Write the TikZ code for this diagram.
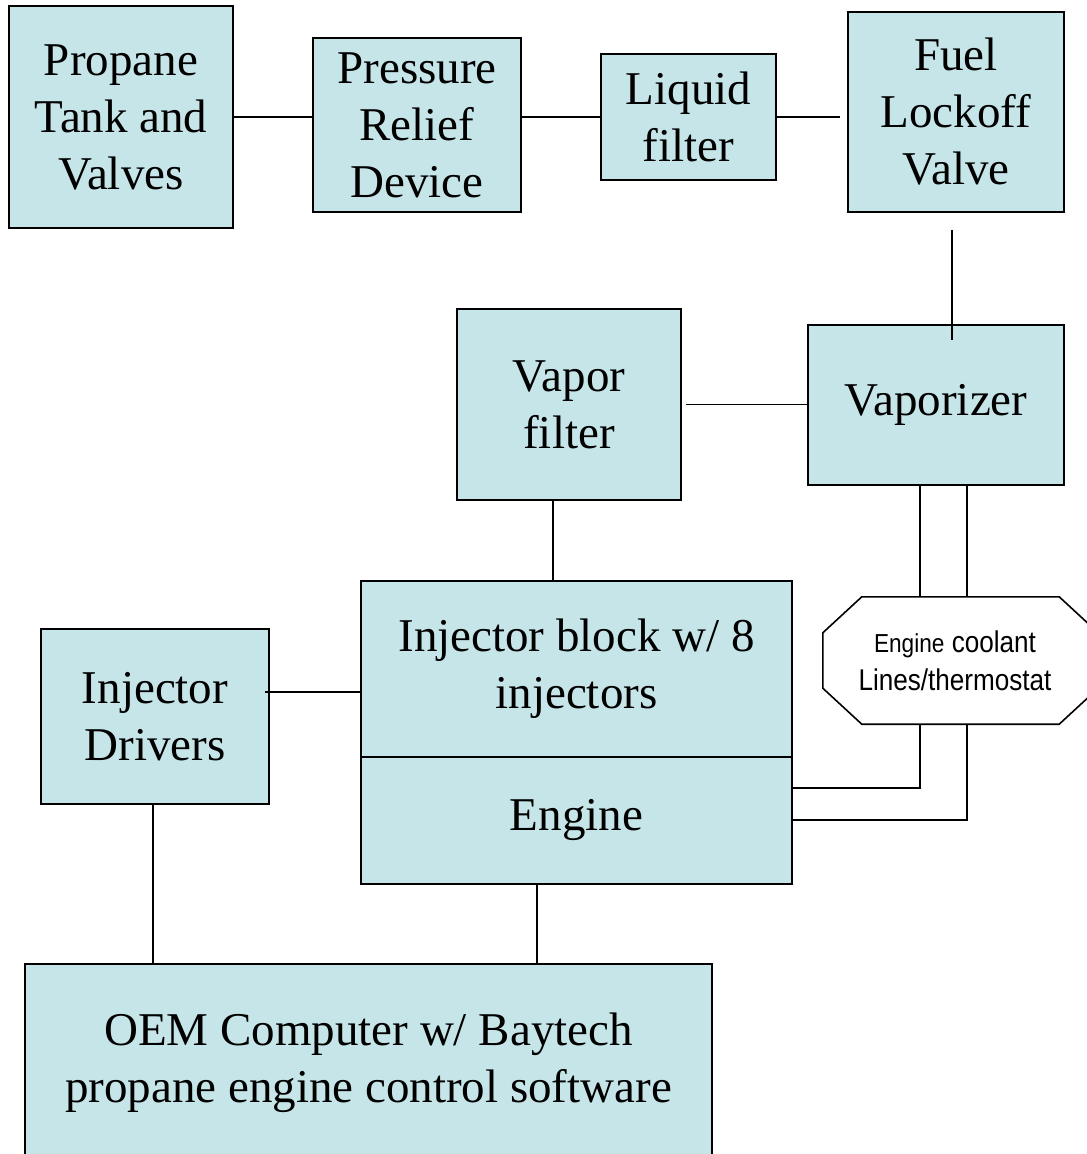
\documentclass[tikz,border=0pt]{standalone}
\usepackage{fontspec}
\setmainfont{Liberation Serif}
\newfontfamily\narrowsans[FakeStretch=0.87]{Liberation Sans}
\usetikzlibrary{calc,positioning}
\definecolor{boxblue}{RGB}{198,229,232}
\tikzset{
  block/.style={draw, fill=boxblue, line width=1.6pt, align=center, inner sep=0pt,
    font=\fontsize{47}{57}\selectfont},
  wire/.style={line width=1.6pt},
}

\begin{document}
\begin{tikzpicture}[x=1pt, y=-1pt]
\useasboundingbox (0,0) rectangle (1087,1154);
% fuel line: tank -> lockoff
\node[block, minimum width=224, minimum height=222] (tank) at (121,117) {Propane\\Tank and\\Valves};
\node[block, minimum width=208, minimum height=174] (relief) at (417,125) {Pressure\\Relief\\Device};
\node[block, minimum width=175, minimum height=126] (liquid) at (688.5,117) {Liquid\\filter};
\node[block, minimum width=216, minimum height=200] (fuel) at (956,112) {Fuel\\Lockoff\\Valve};
% vapor side
\node[block, minimum width=224, minimum height=191] (vfilter) at (569,404.5) {Vapor\\filter};
\node[block, minimum width=256, minimum height=160] (vap) at (936,405) {Vaporizer};
% engine and control
\node[block, minimum width=431, minimum height=176] (inj) at (576.5,669) {Injector block w/ 8\\injectors};
\node[block, minimum width=431, minimum height=127] (eng) at (576.5,820.5) {Engine};
\node[block, minimum width=228, minimum height=175] (drivers) at (155,716.5) {Injector\\Drivers};
\node[block, minimum width=687, minimum height=198] (oem) at (368.5,1063) {OEM Computer w/ Baytech\\propane engine control software};
% coolant octagon (outline drawn round an empty node)
\node[minimum width=275, minimum height=127, inner sep=0pt] (cool) at (960.5,660.5) {};
\draw[line width=1.6pt, fill=white]
  ([xshift=39]cool.north west) -- ([xshift=-39]cool.north east)
  -- ([yshift=-36]cool.north east) -- ([yshift=36]cool.south east)
  -- ([xshift=-39]cool.south east) -- ([xshift=39]cool.south west)
  -- ([yshift=36]cool.south west) -- ([yshift=-36]cool.north west) -- cycle;
\node[align=center, inner sep=0pt, font=\narrowsans\fontsize{30}{38}\selectfont] (cooltext) at (955,660.5)
  {{\fontsize{26}{38}\selectfont Engine} coolant\\Lines/thermostat};
% bends of the coolant lines
\coordinate (ca) at (920,788);
\coordinate (cb) at (967,820);
\coordinate (dj) at (265,692);
% connectors
\draw[wire] (tank.east) -- (tank.east -| relief.west);
\draw[wire] (liquid.west -| relief.east) -- (liquid.west);
\draw[wire, shorten >=7pt] (liquid.east) -- (liquid.east -| fuel.west);
\draw[wire, shorten <=17pt, shorten >=-16pt] ([xshift=-4]fuel.south) -- ([xshift=-4]fuel.south |- vap.north);
\draw[wire, shorten <=4pt] (vfilter.east) -- (vfilter.east -| vap.west);
\draw[wire] ([xshift=-16]vfilter.south) -- ([xshift=-16]vfilter.south |- inj.north);
\draw[wire] (dj) -- (inj.west |- dj);
\draw[wire] (vap.south -| ca) -- (cool.north -| ca);
\draw[wire] (vap.south -| cb) -- (cool.north -| cb);
\draw[wire] (cool.south -| ca) |- (eng.east |- ca);
\draw[wire] (cool.south -| cb) |- (eng.east |- cb);
\draw[wire] ([xshift=-2]drivers.south) -- ([xshift=-2]drivers.south |- oem.north);
\draw[wire] ([xshift=-39.5]eng.south) -- ([xshift=-39.5]eng.south |- oem.north);
\end{tikzpicture}
\end{document}
